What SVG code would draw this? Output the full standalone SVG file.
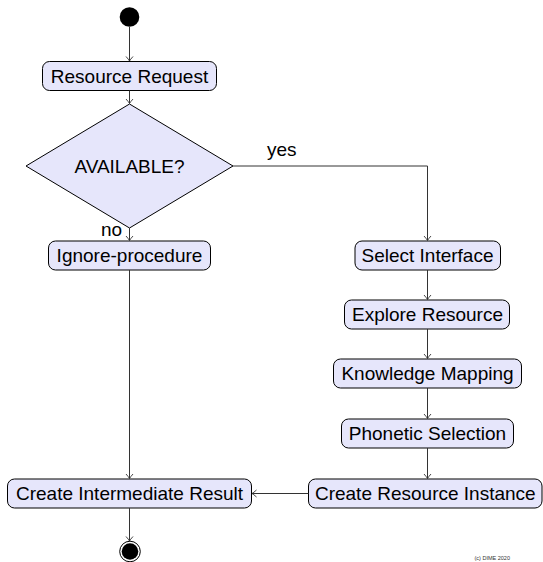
<svg xmlns="http://www.w3.org/2000/svg" width="543" height="562" viewBox="0 0 543 562">
<style>
.box{fill:#e6e6fb;stroke:#000;stroke-width:1}
.lbl{font-family:"Liberation Sans",Arial,sans-serif;font-size:19px;fill:#000;text-anchor:middle}
.edge{fill:none;stroke:#333;stroke-width:1}
.small{font-family:"Liberation Sans",Arial,sans-serif;font-size:19px;fill:#000}
</style>
<defs>
<marker id="arr" markerUnits="userSpaceOnUse" markerWidth="10" markerHeight="10" viewBox="-6 -5 8 10" refX="0" refY="0" orient="auto">
<path d="M-4.5,-3.5 Q-1.5,-0.8 0,0 Q-1.5,0.8 -4.5,3.5" fill="none" stroke="#333" stroke-width="0.9"/>
</marker>
</defs>
<g id="start"><circle cx="129.5" cy="17" r="9.8" fill="#000"/></g>
<g id="n_request"><rect class="box" x="42.5" y="61.5" width="174" height="29" rx="7"/><text class="lbl" x="129.5" y="82.8">Resource Request</text></g>
<g id="n_available"><polygon class="box" points="129.5,104 233,166 129.5,228 26,166"/><text class="lbl" x="129.5" y="172.8">AVAILABLE?</text></g>
<g id="n_ignore"><rect class="box" x="48.5" y="241" width="162" height="29" rx="7"/><text class="lbl" x="129.5" y="262.3">Ignore-procedure</text></g>
<g id="n_select"><rect class="box" x="355" y="241" width="145.5" height="29" rx="7"/><text class="lbl" x="427.5" y="262.3">Select Interface</text></g>
<g id="n_explore"><rect class="box" x="344.5" y="300" width="165" height="29" rx="7"/><text class="lbl" x="427.5" y="321.3">Explore Resource</text></g>
<g id="n_knowledge"><rect class="box" x="333.5" y="359" width="188" height="29" rx="7"/><text class="lbl" x="427.5" y="380.3">Knowledge Mapping</text></g>
<g id="n_phonetic"><rect class="box" x="341.5" y="419" width="172" height="29" rx="7"/><text class="lbl" x="427.5" y="440.3">Phonetic Selection</text></g>
<g id="n_instance"><rect class="box" x="308.5" y="479" width="233.5" height="29" rx="7"/><text class="lbl" x="425.3" y="500.3">Create Resource Instance</text></g>
<g id="n_intermediate"><rect class="box" x="7.5" y="479" width="244" height="29" rx="7"/><text class="lbl" x="129.5" y="500.3">Create Intermediate Result</text></g>
<g id="end"><circle cx="130" cy="551.5" r="10.3" fill="#fff" stroke="#000" stroke-width="1"/><circle cx="130" cy="551.5" r="8.3" fill="#000"/></g>
<g id="connectors">
<path class="edge" d="M129.5,27 V61" marker-end="url(#arr)"/>
<path class="edge" d="M129.5,90.5 V103.5" marker-end="url(#arr)"/>
<path class="edge" d="M129.5,228 V240.5" marker-end="url(#arr)"/>
<path class="edge" d="M129.5,270 V478.5" marker-end="url(#arr)"/>
<path class="edge" d="M233,166 H427.5 V240.5" marker-end="url(#arr)"/>
<path class="edge" d="M427.5,270 V299.5" marker-end="url(#arr)"/>
<path class="edge" d="M427.5,329 V358.5" marker-end="url(#arr)"/>
<path class="edge" d="M427.5,388 V418.5" marker-end="url(#arr)"/>
<path class="edge" d="M427.5,448 V478.5" marker-end="url(#arr)"/>
<path class="edge" d="M308.5,493.5 H252" marker-end="url(#arr)"/>
<path class="edge" d="M129.5,508 V541" marker-end="url(#arr)"/>
<text class="small" x="267" y="155.5">yes</text>
<text class="small" x="101" y="235.5">no</text>
</g>
<text x="510" y="560" font-family="Liberation Sans,Arial,sans-serif" font-size="5.5" fill="#333" text-anchor="end">(c) DIME 2020</text>
</svg>
